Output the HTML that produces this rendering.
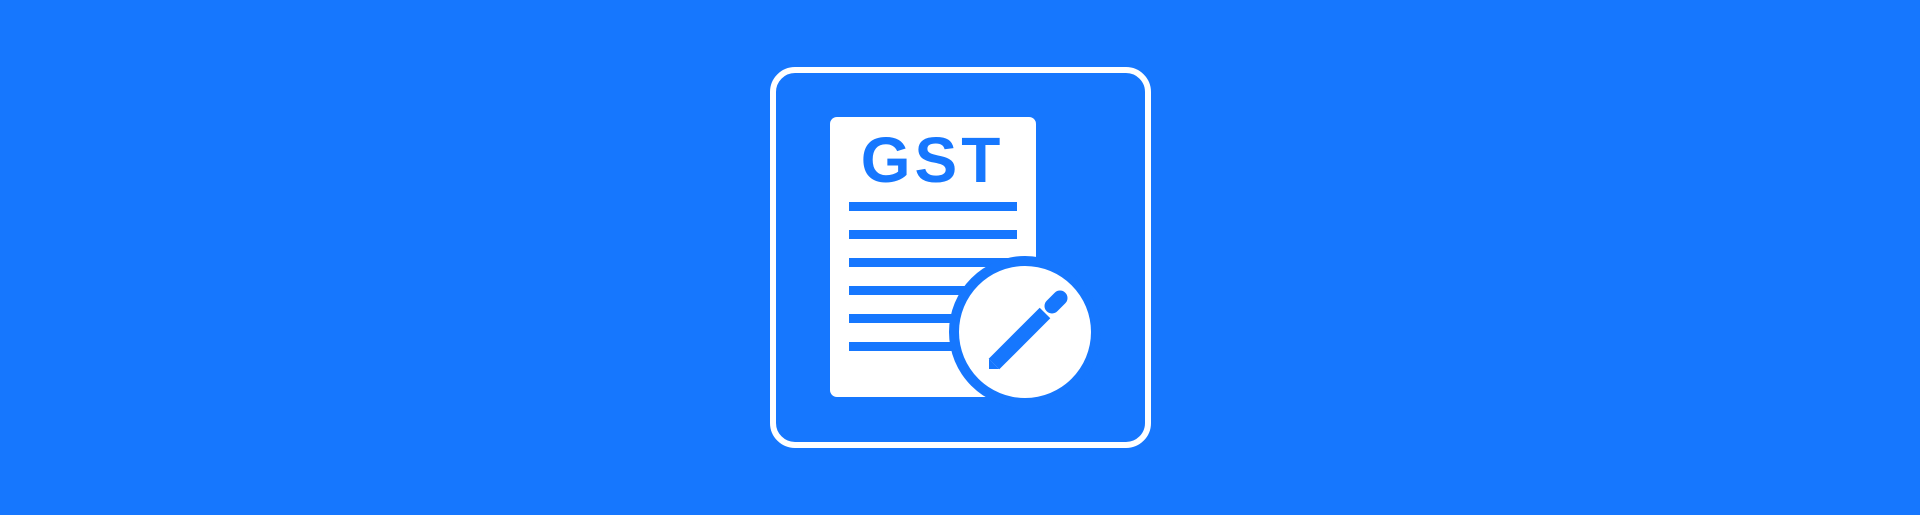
<!DOCTYPE html>
<html><head><meta charset="utf-8"><style>
html,body{margin:0;padding:0;background:#1677fe;width:1920px;height:515px;overflow:hidden}
svg{display:block}
</style></head><body>
<svg width="1920" height="515" viewBox="0 0 1920 515">
<rect x="0" y="0" width="1920" height="515" fill="#1677fe"/>
<rect x="773" y="70" width="375" height="375" rx="22" fill="none" stroke="#fff" stroke-width="6"/>
<rect x="830" y="117" width="206" height="280" rx="7" fill="#fff"/>
<text x="932.5" y="182" text-anchor="middle" font-family="Liberation Sans, sans-serif" font-weight="bold" font-size="64" fill="#1677fe" letter-spacing="4">GST</text>
<g fill="#1677fe">
<rect x="849" y="202" width="168" height="9"/>
<rect x="849" y="230" width="168" height="9"/>
<rect x="849" y="258" width="168" height="9"/>
<rect x="849" y="286" width="168" height="9"/>
<rect x="849" y="314" width="168" height="9"/>
<rect x="849" y="342" width="168" height="9"/>
</g>
<circle cx="1025" cy="332" r="76" fill="#1677fe"/>
<circle cx="1025" cy="332" r="66" fill="#fff"/>
<g>
<line x1="994" y1="364" x2="1045" y2="313" stroke="#1677fe" stroke-width="15"/>
<polygon points="989,359 999,369 990,369 989,369" fill="#1677fe"/>
<line x1="1052" y1="306" x2="1060" y2="298" stroke="#1677fe" stroke-width="15" stroke-linecap="round"/>
</g>
</svg>
</body></html>
